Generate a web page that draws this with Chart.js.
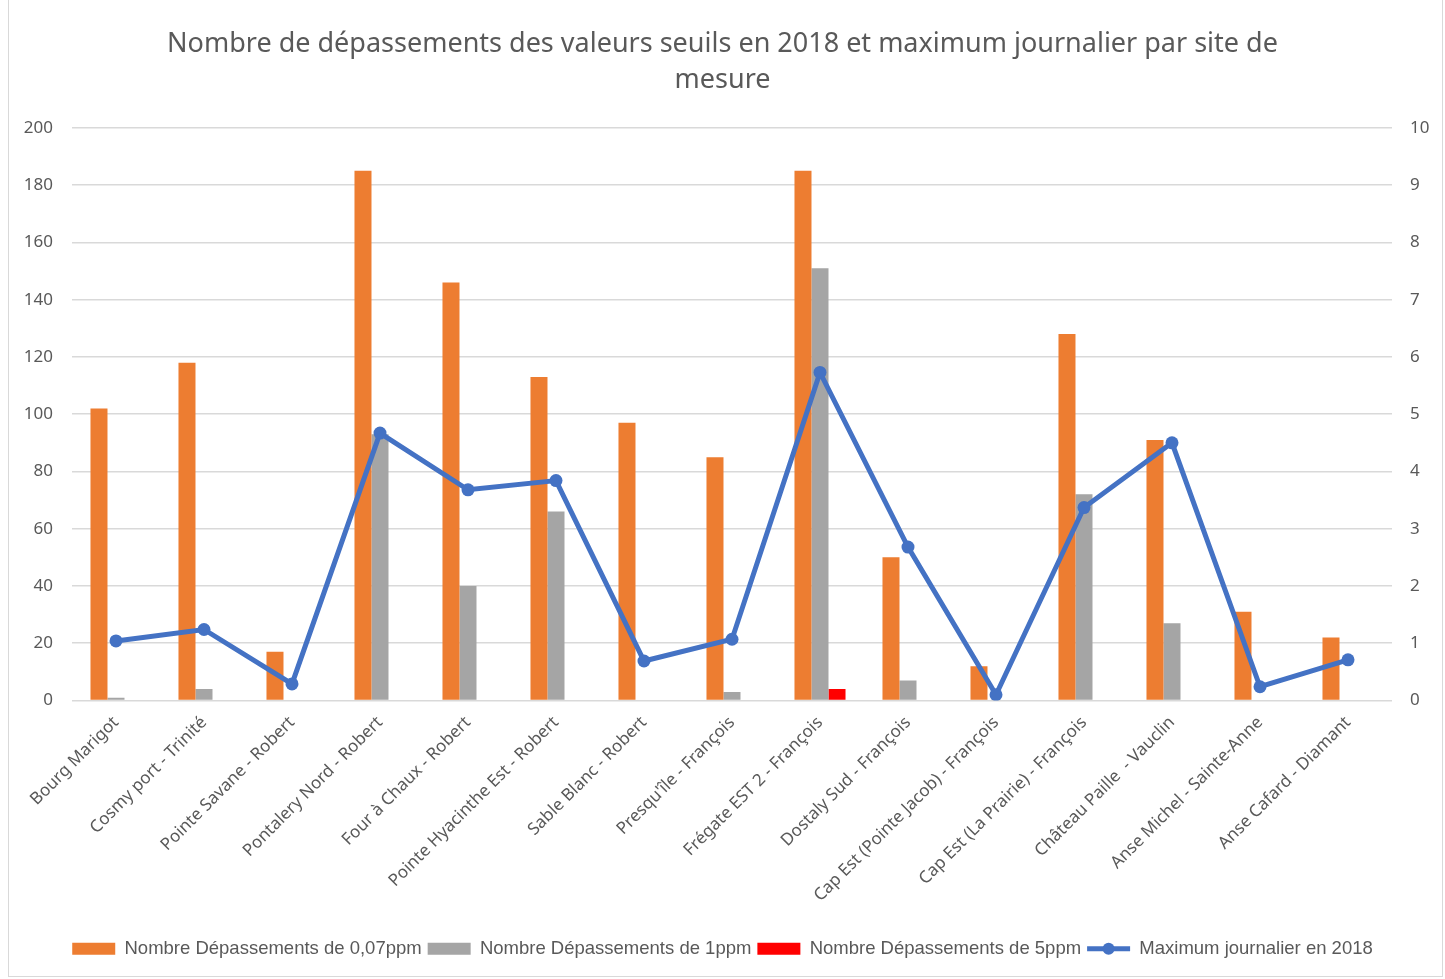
<!DOCTYPE html>
<html lang="fr">
<head>
<meta charset="utf-8">
<title>Dépassements des valeurs seuils 2018</title>
<script src="https://cdn.jsdelivr.net/npm/chart.js@4.4.1/dist/chart.umd.min.js"></script>
<style>
    html, body { margin: 0; padding: 0; background: #fff; }
    #frame {
        position: absolute; left: 8px; top: -2px;
        width: 1435px; height: 979px;
        border: 1px solid #d9d9d9; box-sizing: border-box;
        pointer-events: none;
    }
    #wrap { position: absolute; left: 0; top: 0; width: 1445px; height: 979px; }
</style>
</head>
<body>
<div id="wrap"><canvas id="chart"></canvas></div>
<div id="frame"></div>
<script>
// Sites de mesure
const SITES = [
    'Bourg Marigot', 'Cosmy port - Trinité', 'Pointe Savane - Robert',
    'Pontalery Nord - Robert', 'Four à Chaux - Robert', 'Pointe Hyacinthe Est - Robert',
    'Sable Blanc - Robert', "Presqu'île - François", 'Frégate EST 2 - François',
    'Dostaly Sud - François', 'Cap Est (Pointe Jacob) - François', 'Cap Est (La Prairie) - François',
    'Château Paille  - Vauclin', 'Anse Michel - Sainte-Anne', 'Anse Cafard - Diamant'
];

// Nombre de dépassements
const DEP_007 = [102, 118, 17, 185, 146, 113, 97, 85, 185, 50, 12, 128, 91, 31, 22];
const DEP_1 = [1, 4, 0, 93, 40, 66, 0, 3, 151, 7, 0, 72, 27, 0, 0];
const DEP_5 = [0, 0, 0, 0, 0, 0, 0, 0, 4, 0, 0, 0, 0, 0, 0];

// Maximum journalier (axe de droite)
const MAX_JOUR = [1.04, 1.24, 0.29, 4.67, 3.68, 3.84, 0.69, 1.07, 5.73, 2.68, 0.1, 3.37, 4.5, 0.24, 0.71];

const TITLE_LINES = [
    'Nombre de dépassements des valeurs seuils en 2018 et maximum journalier par site de',
    'mesure'
];

const COLORS = {
    orange: '#ED7D31',
    gris: '#A5A5A5',
    rouge: '#FF0000',
    bleu: '#4472C4',
    texte: '#595959',
    grille: '#D9D9D9'
};

const FONT = "'Noto Sans', 'Open Sans', sans-serif";
const LEGEND_FONT = "'Liberation Sans', Arial, sans-serif";

// petit rond au milieu du trait de légende de la courbe
const legendDot = {
    id: 'legendDot',
    afterDraw(chart) {
        const legend = chart.legend;
        if (!legend || !legend.legendHitBoxes) return;
        const idx = legend.legendItems.findIndex(it => it.datasetIndex === 3);
        const box = legend.legendHitBoxes[idx];
        if (!box) return;
        const ctx = chart.ctx;
        ctx.save();
        ctx.fillStyle = COLORS.bleu;
        ctx.beginPath();
        ctx.arc(box.left + 21.5, box.top + box.height / 2, 6, 0, Math.PI * 2);
        ctx.fill();
        ctx.restore();
    }
};

const ctx = document.getElementById('chart');

new Chart(ctx, {
    data: {
        labels: SITES,
        datasets: [
            {
                type: 'bar',
                label: 'Nombre Dépassements de 0,07ppm',
                data: DEP_007,
                backgroundColor: COLORS.orange,
                yAxisID: 'y',
                order: 2
            },
            {
                type: 'bar',
                label: 'Nombre Dépassements de 1ppm',
                data: DEP_1,
                backgroundColor: COLORS.gris,
                yAxisID: 'y',
                order: 2
            },
            {
                type: 'bar',
                label: 'Nombre Dépassements de 5ppm',
                data: DEP_5,
                backgroundColor: COLORS.rouge,
                yAxisID: 'y',
                order: 2
            },
            {
                type: 'line',
                label: 'Maximum journalier en 2018',
                data: MAX_JOUR,
                borderColor: COLORS.bleu,
                backgroundColor: COLORS.bleu,
                borderWidth: 5,
                pointRadius: 6.5,
                pointBackgroundColor: COLORS.bleu,
                pointBorderWidth: 0,
                tension: 0,
                yAxisID: 'y1',
                order: 1
            }
        ]
    },
    options: {
        responsive: true,
        maintainAspectRatio: false,
        animation: false,
        datasets: {
            bar: { barPercentage: 1, categoryPercentage: 0.58 }
        },
        layout: { padding: { left: 0, right: 0, top: 0, bottom: 11 } },
        scales: {
            x: {
                grid: { display: false },
                border: { display: false },
                ticks: {
                    color: COLORS.texte,
                    font: { family: FONT, size: 17 },
                    maxRotation: 45,
                    minRotation: 45,
                    autoSkip: false,
                    padding: 4
                },
                afterFit(scale) { scale.height = 233; }
            },
            y: {
                position: 'left',
                min: 0,
                max: 200,
                ticks: {
                    stepSize: 20,
                    color: COLORS.texte,
                    font: { family: FONT, size: 17 },
                    padding: 19
                },
                grid: { color: COLORS.grille, lineWidth: 1.5, drawTicks: false },
                border: { display: false },
                afterFit(scale) { scale.width = 72; }
            },
            y1: {
                position: 'right',
                min: 0,
                max: 10,
                ticks: {
                    stepSize: 1,
                    color: COLORS.texte,
                    font: { family: FONT, size: 17 },
                    padding: 18
                },
                grid: { display: false, drawTicks: false },
                border: { display: false },
                afterFit(scale) { scale.width = 53; }
            }
        },
        plugins: {
            title: {
                display: true,
                text: TITLE_LINES,
                color: COLORS.texte,
                font: { family: FONT, size: 27, weight: 'normal', lineHeight: 1.35 },
                padding: { top: 26, bottom: 29 }
            },
            legend: {
                position: 'bottom',
                labels: {
                    usePointStyle: true,
                    pointStyleWidth: 43,
                    boxHeight: 12,
                    color: COLORS.texte,
                    font: { family: LEGEND_FONT, size: 18.5 },
                    padding: 6,
                    sort: (a, b) => a.datasetIndex - b.datasetIndex,
                    generateLabels(chart) {
                        const items = Chart.defaults.plugins.legend.labels.generateLabels(chart);
                        items.forEach(it => {
                            if (it.datasetIndex === 3) {
                                it.pointStyle = 'line';
                                it.lineWidth = 5;
                                it.strokeStyle = COLORS.bleu;
                            } else {
                                it.pointStyle = 'rect';
                                it.lineWidth = 0;
                            }
                        });
                        return items;
                    }
                }
            },
            tooltip: { enabled: false }
        }
    },
    plugins: [legendDot]
});
</script>
</body>
</html>
